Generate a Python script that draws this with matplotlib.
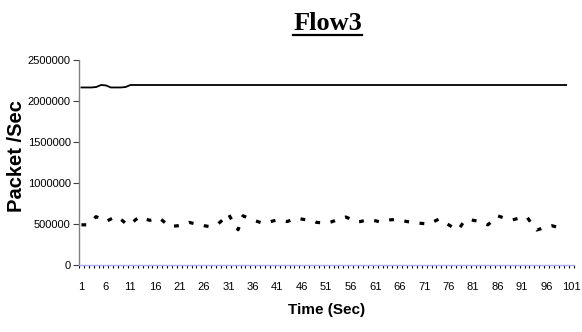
import matplotlib
matplotlib.use("Agg")
import matplotlib.pyplot as plt
from matplotlib.lines import Line2D
from matplotlib.ticker import FixedLocator, NullFormatter

# Time axis categories (seconds)
time_sec = list(range(1, 101))
x_tick_labels = [str(v) for v in range(1, 102, 5)]
y_ticks = [0, 500000, 1000000, 1500000, 2000000, 2500000]

# Upper flow rate (packets/sec)
upper_rate = [2165000, 2165000, 2165000, 2170000, 2195000, 2190000, 2165000, 2165000,
              2165000, 2170000] + [2195000] * 90

# Lower flow rate (packets/sec)
lower_rate = [490000, 490000, 530000, 590000, 560000, 530000, 560000, 590000, 560000, 510000,
              490000, 550000, 590000, 560000, 545000, 555000, 570000, 520000, 470000, 475000,
              480000, 500000, 520000, 505000, 495000, 480000, 470000, 490000, 505000, 560000,
              625000, 520000, 430000, 600000, 575000, 550000, 530000, 510000, 515000, 535000,
              550000, 540000, 530000, 550000, 570000, 560000, 550000, 545000, 520000, 515000,
              510000, 525000, 545000, 570000, 585000, 560000, 525000, 530000, 545000, 550000,
              540000, 525000, 540000, 550000, 555000, 545000, 535000, 525000, 515000, 510000,
              505000, 500000, 530000, 560000, 530000, 490000, 455000, 430000, 520000, 560000,
              545000, 535000, 515000, 490000, 540000, 600000, 580000, 560000, 550000, 565000,
              580000, 585000, 500000, 427000, 445000, 470000, 480000, 465000, 450000, 455000]

plt.rcParams['font.family'] = ['Liberation Sans', 'DejaVu Sans']

fig = plt.figure(figsize=(5.82, 3.32), dpi=100)
ax = fig.add_axes([0.1357, 0.2018, 0.8497, 0.6175])

ax.plot(time_sec, upper_rate, color='black', lw=1.3, solid_joinstyle='round')
ax.plot(time_sec, lower_rate, color='black', lw=2.3,
        linestyle=(0, (1.5, 3.3)), dash_capstyle='butt')

ax.set_xlim(0.5, 101.5)
ax.set_ylim(0, 2500000)

ax.set_yticks(y_ticks)
ax.set_yticklabels([str(v) for v in y_ticks], fontsize=8)
ax.tick_params(axis='y', direction='out', length=4, width=0.8, pad=2, color='#404040')

ax.xaxis.set_major_locator(FixedLocator(list(range(1, 102, 5))))
ax.set_xticklabels(x_tick_labels, fontsize=8)
ax.tick_params(axis='x', which='major', length=0, pad=12)
ax.xaxis.set_minor_locator(FixedLocator([v + 0.5 for v in range(0, 102)]))
ax.xaxis.set_minor_formatter(NullFormatter())
ax.tick_params(axis='x', which='minor', direction='out', length=2.2, width=0.8, color='black')

for side in ('top', 'right'):
    ax.spines[side].set_visible(False)
ax.spines['left'].set_color('#808080')
ax.spines['left'].set_linewidth(1.0)
ax.spines['bottom'].set_color('#a8a8f0')
ax.spines['bottom'].set_linewidth(1.0)

ax.set_xlabel('Time (Sec)', fontsize=11, fontweight='bold', labelpad=8)
ax.set_ylabel('Packet /Sec', fontsize=14.5, fontweight='bold')
ax.yaxis.set_label_coords(-0.107, 0.53)

title = fig.text(0.563, 0.93, 'Flow3', fontsize=19, fontweight='bold',
                 family=['Liberation Serif', 'DejaVu Serif'], ha='center', va='center')

# Underline the title
fig.canvas.draw()
bb = title.get_window_extent().transformed(fig.transFigure.inverted())
uy = bb.y0 - 0.002
fig.add_artist(Line2D([bb.x0, bb.x1], [uy, uy], transform=fig.transFigure,
                      color='black', lw=1.6))

fig.savefig('out.png', dpi=100)
